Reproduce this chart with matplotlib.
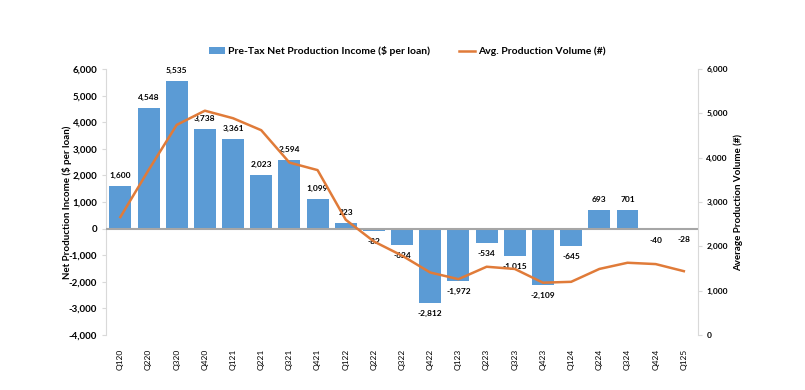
import matplotlib.pyplot as plt
import numpy as np

plt.rcParams['font.family'] = ['Lato', 'DejaVu Sans']

quarters = ["Q120", "Q220", "Q320", "Q420", "Q121", "Q221", "Q321", "Q421",
            "Q122", "Q222", "Q322", "Q422", "Q123", "Q223", "Q323", "Q423",
            "Q124", "Q224", "Q324", "Q424", "Q125"]
income = [1600, 4548, 5535, 3738, 3361, 2023, 2594, 1099, 223, -82, -624,
          -2812, -1972, -534, -1015, -2109, -645, 693, 701, -40, -28]
volume = [2660, 3720, 4740, 5060, 4890, 4620, 3890, 3720, 2600, 2110, 1790,
          1410, 1260, 1540, 1490, 1180, 1200, 1490, 1630, 1600, 1440]

bar_color = "#5B9BD5"
line_color = "#E07B39"
spine_color = "#D9D9D9"

fig = plt.figure(figsize=(8.05, 3.90), dpi=100)
ax = fig.add_axes([0.132, 0.141, 0.735, 0.682])
ax2 = ax.twinx()

x = np.arange(len(quarters))
bars = ax.bar(x, income, width=0.78, color=bar_color, zorder=2,
              label="Pre-Tax Net Production Income ($ per loan)")
ax.axhline(0, color="#A6A6A6", lw=1.5, zorder=3)

for xi, v in zip(x, income):
    if v >= 0:
        ax.annotate(f"{v:,}", (xi, v), xytext=(0, 5), textcoords="offset points",
                    ha="center", va="bottom", fontsize=6, fontweight="bold", zorder=5)
    else:
        ax.annotate(f"{v:,}", (xi, v), xytext=(0, -5), textcoords="offset points",
                    ha="center", va="top", fontsize=6, fontweight="bold", zorder=5)

line, = ax2.plot(x, volume, color=line_color, lw=1.8, zorder=4,
                 label="Avg. Production Volume (#)")

ax.set_xlim(-0.5, len(quarters) - 0.5)
ax.set_ylim(-4000, 6000)
ax.set_yticks(np.arange(-4000, 6001, 1000))
ax.set_yticklabels([f"{t:,}" for t in range(-4000, 6001, 1000)])
ax2.set_ylim(0, 6000)
ax2.set_yticks(np.arange(0, 6001, 1000))
ax2.set_yticklabels([f"{t:,}" for t in range(0, 6001, 1000)])

ax.set_xticks(x)
ax.set_xticklabels(quarters, rotation=90, fontsize=6)
ax.tick_params(axis="x", length=0, pad=10)
ax.tick_params(axis="y", labelsize=7, length=3, color=spine_color)
ax2.tick_params(axis="y", labelsize=6, length=3, color=spine_color, pad=3)
for lbl in ax.get_yticklabels() + ax2.get_yticklabels():
    lbl.set_fontweight("bold")

ax2.set_zorder(ax.get_zorder() + 1)
ax.patch.set_visible(False)

for a in (ax, ax2):
    a.spines["top"].set_visible(False)
    a.spines["bottom"].set_visible(False)
    a.spines["left"].set_color(spine_color)
    a.spines["right"].set_color(spine_color)
ax.spines["right"].set_visible(False)
ax2.spines["left"].set_visible(False)

ax.set_ylabel("Net Production Income ($ per loan)", fontsize=7, fontweight="bold", labelpad=-2)
ax2.set_ylabel("Average Production Volume (#)", fontsize=7, fontweight="bold", labelpad=4)

fig.legend([bars, line], [bars.get_label(), line.get_label()],
           loc="center", bbox_to_anchor=(0.506, 0.868), ncol=2, frameon=False,
           prop={"size": 7.5, "weight": "bold"}, handlelength=1.5, columnspacing=2.8,
           handletextpad=0.3)

plt.savefig("out.png", dpi=100)
